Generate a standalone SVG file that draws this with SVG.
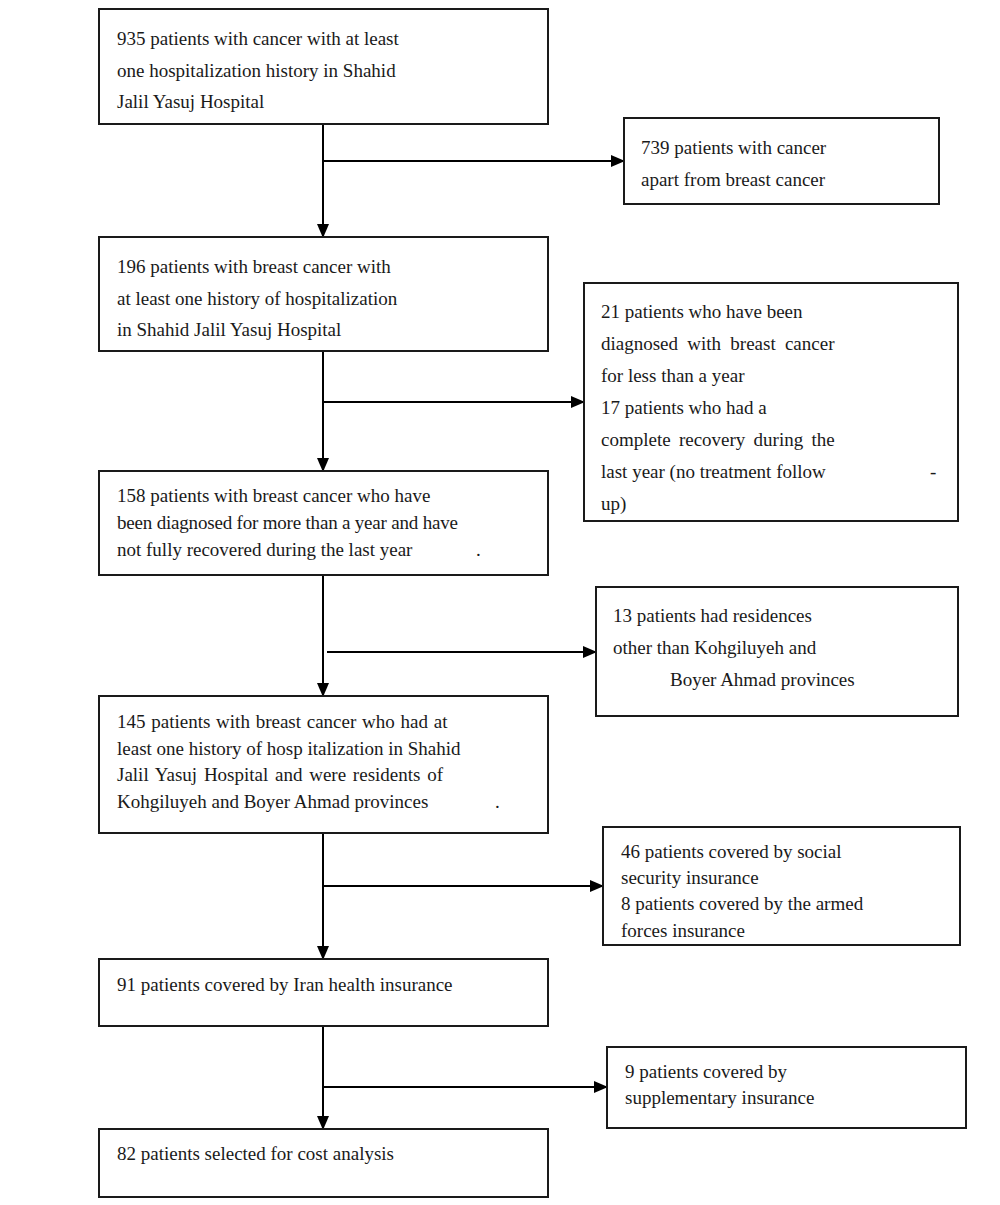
<svg xmlns="http://www.w3.org/2000/svg" width="1000" height="1205" viewBox="0 0 1000 1205">
<style>
.box{fill:#fff;stroke:#1a1a1a;stroke-width:2}
.t{font-family:"Liberation Serif","DejaVu Serif",serif;font-size:19px;fill:#1a1a1a}
.c{stroke:#000;stroke-width:2;fill:none}
</style>
<defs>
<marker id="ah" markerWidth="14" markerHeight="12" refX="13" refY="6" orient="auto" markerUnits="userSpaceOnUse">
<path d="M0,0 L14,6 L0,12 Z" fill="#000"/>
</marker>
</defs>
<rect width="1000" height="1205" fill="#fff"/>
<g id="connectors">
<path class="c" d="M323,124 V237" marker-end="url(#ah)"/>
<path class="c" d="M323,161 H624" marker-end="url(#ah)"/>
<path class="c" d="M323,351 V471" marker-end="url(#ah)"/>
<path class="c" d="M323,402 H584" marker-end="url(#ah)"/>
<path class="c" d="M323,575 V696" marker-end="url(#ah)"/>
<path class="c" d="M327,652 H596" marker-end="url(#ah)"/>
<path class="c" d="M323,833 V959" marker-end="url(#ah)"/>
<path class="c" d="M323,886 H603" marker-end="url(#ah)"/>
<path class="c" d="M323,1026 V1129" marker-end="url(#ah)"/>
<path class="c" d="M322,1087 H607" marker-end="url(#ah)"/>
</g>
<g id="n1">
<rect class="box" x="99" y="9" width="449" height="115"/>
<text class="t" x="117" y="45">935 patients with cancer with at least</text>
<text class="t" x="117" y="77">one hospitalization history in Shahid</text>
<text class="t" x="117" y="108">Jalil Yasuj Hospital</text>
</g>
<g id="r1">
<rect class="box" x="624" y="118" width="315" height="86"/>
<text class="t" x="641" y="154">739 patients with cancer</text>
<text class="t" x="641" y="186">apart from breast cancer</text>
</g>
<g id="n2">
<rect class="box" x="99" y="237" width="449" height="114"/>
<text class="t" x="117" y="273">196 patients with breast cancer with</text>
<text class="t" x="117" y="305">at least one history of hospitalization</text>
<text class="t" x="117" y="336">in Shahid Jalil Yasuj Hospital</text>
</g>
<g id="r2">
<rect class="box" x="584" y="283" width="374" height="238"/>
<text class="t" x="601" y="318">21 patients who have been</text>
<text class="t" x="601" y="350" word-spacing="4.5">diagnosed with breast cancer</text>
<text class="t" x="601" y="382">for less than a year</text>
<text class="t" x="601" y="414">17 patients who had a</text>
<text class="t" x="601" y="446" word-spacing="3.5">complete recovery during the</text>
<text class="t" x="601" y="478">last year (no treatment follow</text>
<text class="t" x="930" y="478">-</text>
<text class="t" x="601" y="510">up)</text>
</g>
<g id="n3">
<rect class="box" x="99" y="471" width="449" height="104"/>
<text class="t" x="117" y="502">158 patients with breast cancer who have</text>
<text class="t" x="117" y="529" textLength="341" lengthAdjust="spacing">been diagnosed for more than a year and have</text>
<text class="t" x="117" y="556">not fully recovered during the last year</text>
<text class="t" x="476" y="556">.</text>
</g>
<g id="r3">
<rect class="box" x="596" y="587" width="362" height="129"/>
<text class="t" x="613" y="622">13 patients had residences</text>
<text class="t" x="613" y="654">other than Kohgiluyeh and</text>
<text class="t" x="670" y="686">Boyer Ahmad provinces</text>
</g>
<g id="n4">
<rect class="box" x="99" y="696" width="449" height="137"/>
<text class="t" x="117" y="728" word-spacing="1">145 patients with breast cancer who had at</text>
<text class="t" x="117" y="755">least one history of hosp italization in Shahid</text>
<text class="t" x="117" y="781" word-spacing="2">Jalil Yasuj Hospital and were residents of</text>
<text class="t" x="117" y="808">Kohgiluyeh and Boyer Ahmad provinces</text>
<text class="t" x="495" y="808">.</text>
</g>
<g id="r4">
<rect class="box" x="603" y="827" width="357" height="118"/>
<text class="t" x="621" y="858">46 patients covered by social</text>
<text class="t" x="621" y="884">security insurance</text>
<text class="t" x="621" y="910">8 patients covered by the armed</text>
<text class="t" x="621" y="937">forces insurance</text>
</g>
<g id="n5">
<rect class="box" x="99" y="959" width="449" height="67"/>
<text class="t" x="117" y="991">91 patients covered by Iran health insurance</text>
</g>
<g id="r5">
<rect class="box" x="607" y="1047" width="359" height="81"/>
<text class="t" x="625" y="1078">9 patients covered by</text>
<text class="t" x="625" y="1104">supplementary insurance</text>
</g>
<g id="n6">
<rect class="box" x="99" y="1129" width="449" height="68"/>
<text class="t" x="117" y="1160">82 patients selected for cost analysis</text>
</g>
</svg>
